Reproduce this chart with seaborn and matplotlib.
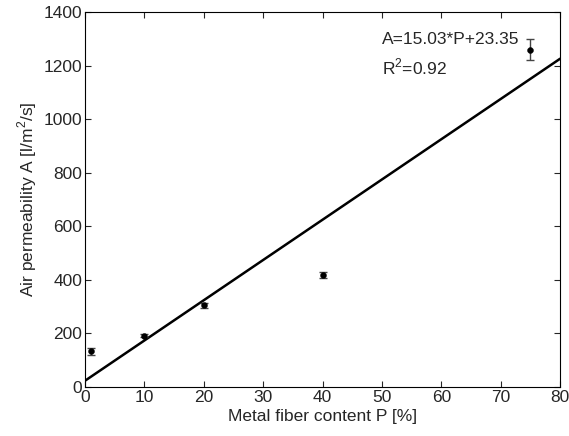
import seaborn as sns
import matplotlib.pyplot as plt
import pandas as pd
import numpy as np

# measured data
fiber_content = [1, 10, 20, 40, 75]
permeability = [133, 192, 305, 418, 1260]
perm_err = [14, 7, 10, 12, 40]

# linear fit A = a*P + b
slope = 15.03
intercept = 23.35
fit_range = [0, 80]


def plot_permeability():
    sns.set_style("ticks")
    plt.rcParams['font.family'] = ['Liberation Sans', 'DejaVu Sans']
    plt.rcParams['mathtext.fontset'] = 'custom'
    plt.rcParams['mathtext.rm'] = 'Liberation Sans'

    df = pd.DataFrame({'P': fiber_content, 'A': permeability, 'err': perm_err})
    fit_x = np.array(fit_range)
    fit_df = pd.DataFrame({'P': fit_x, 'A': slope * fit_x + intercept})

    fig = plt.figure(figsize=(5.69, 4.36), dpi=100)
    ax = fig.add_axes([0.1494, 0.1124, 0.835, 0.860])

    sns.lineplot(data=fit_df, x='P', y='A', color='black', linewidth=1.8, ax=ax)
    ax.errorbar(df['P'], df['A'], yerr=df['err'], fmt='none', ecolor='#444444',
                elinewidth=1, capsize=3, capthick=1)
    sns.scatterplot(data=df, x='P', y='A', color='black', s=18, edgecolor='black', ax=ax, zorder=5)

    ax.set_xlim(0, 80)
    ax.set_ylim(0, 1400)
    ax.set_xticks(range(0, 81, 10))
    ax.set_yticks(range(0, 1401, 200))
    ax.tick_params(direction='in', top=True, right=True, labelsize=12.5, length=4, width=0.8, pad=2)
    for s in ax.spines.values():
        s.set_visible(True)
        s.set_linewidth(0.8)
        s.set_color('black')

    ax.set_xlabel('Metal fiber content P [%]', fontsize=12.5, labelpad=3)
    ax.set_ylabel('Air permeability A [l/m$^2$/s]', fontsize=12.5, labelpad=3)

    ax.text(0.625, 0.928, 'A=%.2f*P+%.2f' % (slope, intercept), transform=ax.transAxes,
            fontsize=12.5, va='center')
    ax.text(0.625, 0.853, 'R$^2$=0.92', transform=ax.transAxes, fontsize=12.5, va='center')

    fig.savefig('out.png', dpi=100)


if __name__ == '__main__':
    plot_permeability()
